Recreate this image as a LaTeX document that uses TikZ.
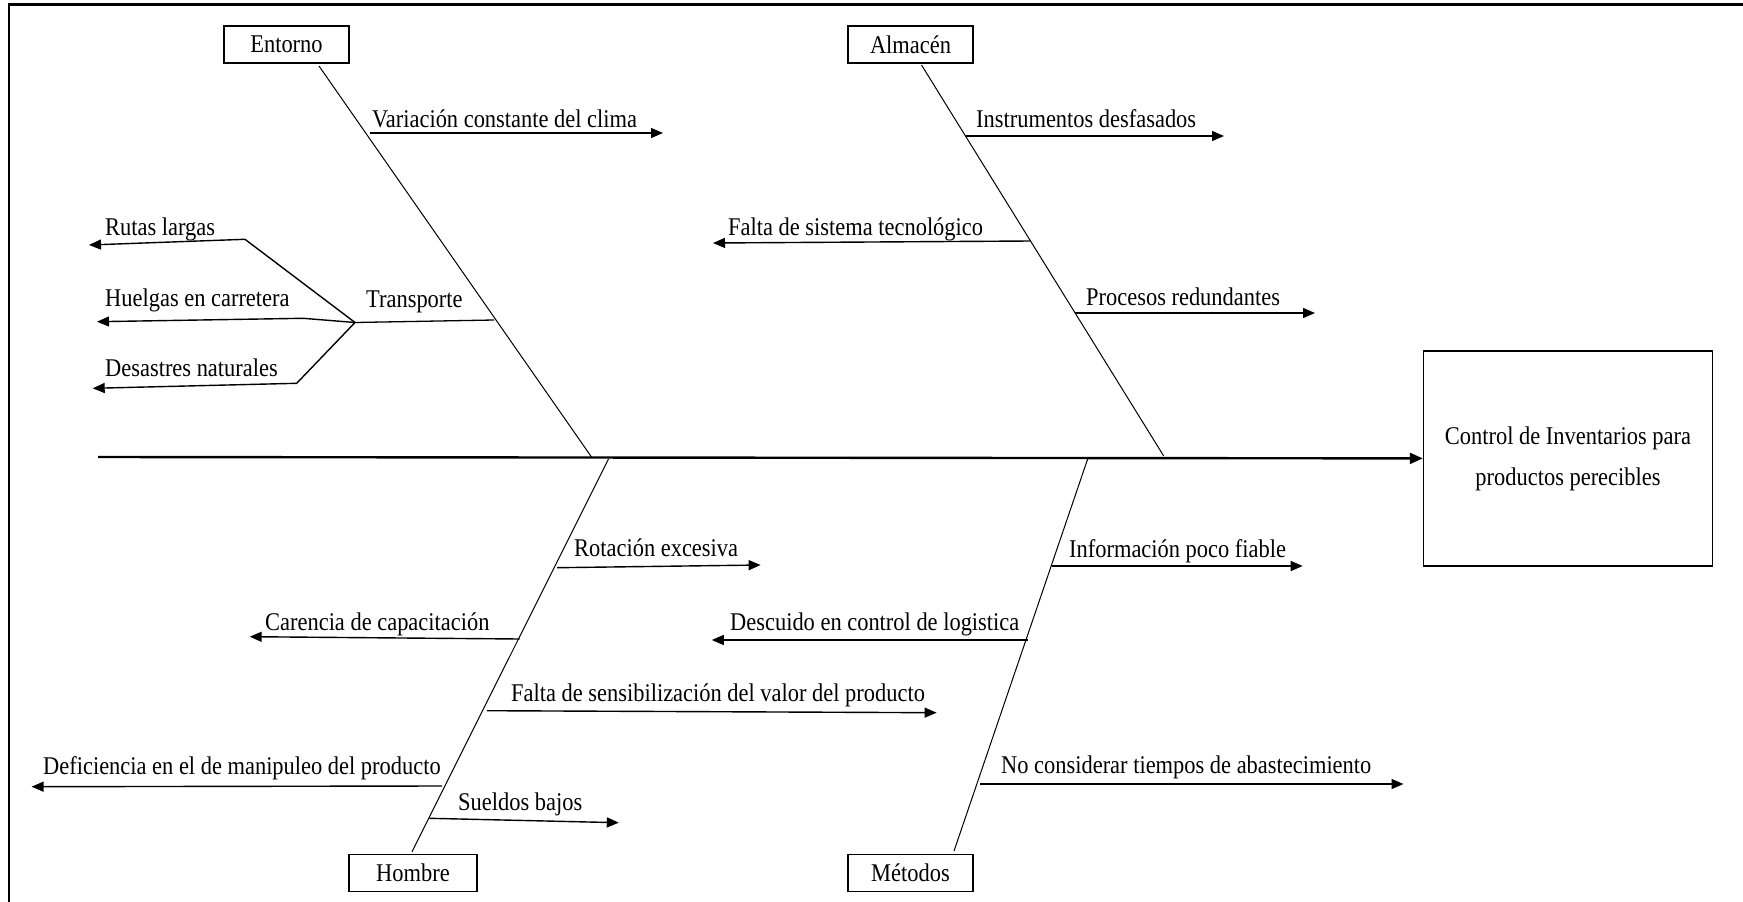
\documentclass[tikz,border=0pt]{standalone}
\usepackage{fontspec}
\setmainfont{Liberation Serif}[FakeStretch=0.88]
\usetikzlibrary{arrows.meta}
\tikzset{
causa/.style={draw, line width=1.5pt, minimum width=125pt, minimum height=37pt, inner sep=0pt},
efectobox/.style={draw, line width=1.5pt, minimum width=289pt, minimum height=215pt, align=center, inner sep=0pt},
txt/.style={anchor=base west, inner sep=0pt},
hueso/.style={line width=1pt},
rama/.style={line width=1.3pt},
flecha/.style={line width=1.4pt, -{Triangle[length=12pt,width=10pt]}},
espina/.style={line width=2.4pt, -{Triangle[length=13pt,width=11pt]}}
}
\begin{document}
\begin{tikzpicture}[x=1pt, y=-1pt, font=\fontsize{25.5}{41}\selectfont]
\useasboundingbox (0,0) rectangle (1743,902);
\draw[line width=2.2pt] (9,902) -- (9,4.5) -- (1743,4.5);
\node[causa] (ent) at (286.5,44.5){Entorno};
\node[causa] (alm) at (910.5,44.5){Almacén};
\node[causa, minimum width=128pt] (hom) at (413,873){Hombre};
\node[causa] (met) at (910.5,873){Métodos};
\node[efectobox] (efecto) at (1568,458.4){Control de Inventarios para\\productos perecibles};
\coordinate (cola) at (98,457);
\draw[espina] (cola) -- (efecto.west);
\coordinate (ent0) at (319,66);
\coordinate (ent1) at (591.5,457);
\coordinate (alm0) at (921.5,65);
\coordinate (alm1) at (1163.7,456);
\coordinate (hom0) at (608.5,459);
\coordinate (hom1) at (412,851.7);
\coordinate (met0) at (1088,458);
\coordinate (met1) at (954,851);
\draw[hueso] (ent0) -- (ent1);
\draw[hueso] (alm0) -- (alm1);
\draw[hueso] (hom0) -- (hom1);
\draw[hueso] (met0) -- (met1);
\coordinate (e1a) at (370,133);
\coordinate (e1b) at (663,133);
\draw[flecha] (e1a) -- (e1b);
\node[txt] (t1) at (372,127){Variación constante del clima};
\coordinate (e2a) at (494,320);
\coordinate (tr) at (355,322.5);
\draw[rama] (e2a) -- (tr);
\node[txt] (t2) at (366,307){Transporte};
\coordinate (r1) at (245,239.3);
\coordinate (r1b) at (89,245);
\draw[flecha] (tr) -- (r1) -- (r1b);
\node[txt] (t3) at (105,235){Rutas largas};
\coordinate (r2) at (303,318.3);
\coordinate (r2b) at (97,321.7);
\draw[flecha] (tr) -- (r2) -- (r2b);
\node[txt] (t4) at (105,306.7){Huelgas en carretera};
\coordinate (r3) at (296.7,383.3);
\coordinate (r3b) at (92.7,388.3);
\draw[flecha] (tr) -- (r3) -- (r3b);
\node[txt] (t5) at (105,376.7){Desastres naturales};
\coordinate (a1a) at (966,136);
\coordinate (a1b) at (1224,136);
\draw[flecha] (a1a) -- (a1b);
\node[txt] (t6) at (976,127){Instrumentos desfasados};
\coordinate (a2a) at (1030.7,241);
\coordinate (a2b) at (713,243);
\draw[flecha] (a2a) -- (a2b);
\node[txt] (t7) at (728,235){Falta de sistema tecnológico};
\coordinate (a3a) at (1074.6,313);
\coordinate (a3b) at (1315,313);
\draw[flecha] (a3a) -- (a3b);
\node[txt] (t8) at (1086,305){Procesos redundantes};
\coordinate (h1a) at (557,567.7);
\coordinate (h1b) at (760.6,565);
\draw[flecha] (h1a) -- (h1b);
\node[txt] (t9) at (574,556.7){Rotación excesiva};
\coordinate (h2a) at (519.5,639);
\coordinate (h2b) at (249.7,636.7);
\draw[flecha] (h2a) -- (h2b);
\node[txt] (t10) at (265,630){Carencia de capacitación};
\coordinate (h3a) at (486.8,710.7);
\coordinate (h3b) at (936.6,712.7);
\draw[flecha] (h3a) -- (h3b);
\node[txt] (t11) at (511,701.7){Falta de sensibilización del valor del producto};
\coordinate (h4a) at (442,786);
\coordinate (h4b) at (31.6,786.7);
\draw[flecha] (h4a) -- (h4b);
\node[txt] (t12) at (43,774){Deficiencia en el de manipuleo del producto};
\coordinate (h5a) at (429.4,818.3);
\coordinate (h5b) at (618.8,822.7);
\draw[flecha] (h5a) -- (h5b);
\node[txt] (t13) at (458,810){Sueldos bajos};
\coordinate (m1a) at (1052,566);
\coordinate (m1b) at (1302.7,566);
\draw[flecha] (m1a) -- (m1b);
\node[txt] (t14) at (1069,557){Información poco fiable};
\coordinate (m2a) at (1027.7,640);
\coordinate (m2b) at (711.8,640);
\draw[flecha] (m2a) -- (m2b);
\node[txt] (t15) at (730,630){Descuido en control de logistica};
\coordinate (m3a) at (980,784);
\coordinate (m3b) at (1403.5,784);
\draw[flecha] (m3a) -- (m3b);
\node[txt] (t16) at (1001,773){No considerar tiempos de abastecimiento};
\end{tikzpicture}
\end{document}
